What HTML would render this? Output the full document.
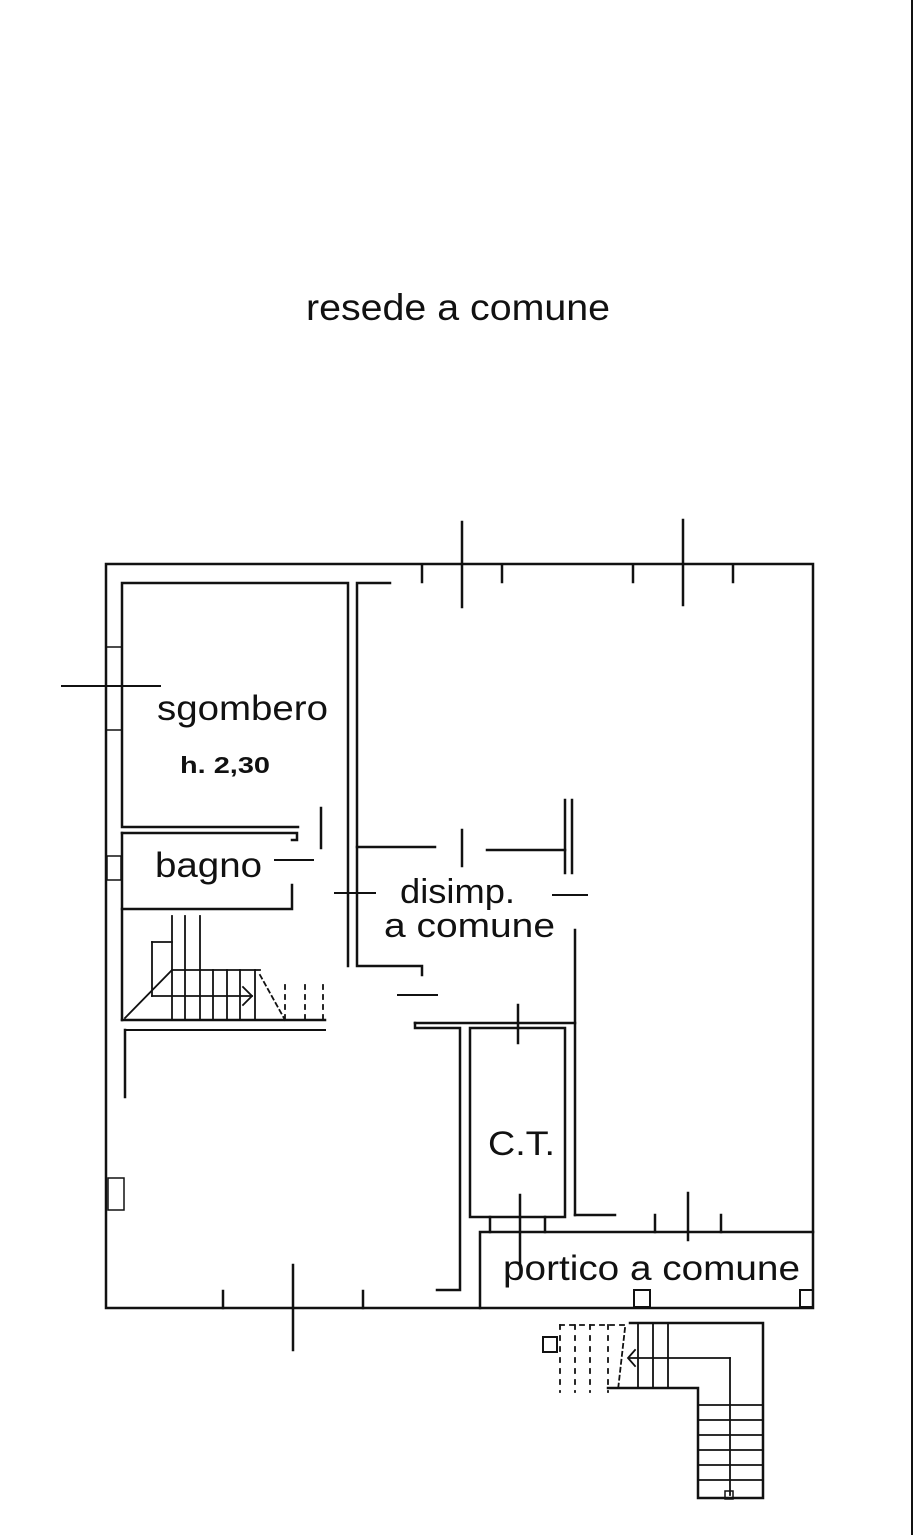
<!DOCTYPE html>
<html><head><meta charset="utf-8"><style>
html,body{margin:0;padding:0;background:#fff;width:919px;height:1535px;overflow:hidden}
svg{display:block}
text{font-family:"Liberation Sans",sans-serif;fill:#111}
</style></head><body>
<svg width="919" height="1535" viewBox="0 0 919 1535" xmlns="http://www.w3.org/2000/svg">
<g stroke="#111" fill="none" stroke-width="2.5" stroke-linecap="square">
<line x1="912" y1="0" x2="912" y2="1535" stroke-width="2"/>
<polyline points="106,1308 106,564 813,564 813,1308 106,1308"/>
<line x1="462" y1="522" x2="462" y2="607"/>
<line x1="683" y1="520" x2="683" y2="605"/>
<line x1="422" y1="566" x2="422" y2="582"/>
<line x1="502" y1="566" x2="502" y2="582"/>
<line x1="633" y1="566" x2="633" y2="582"/>
<line x1="733" y1="566" x2="733" y2="582"/>
<line x1="62" y1="686" x2="160" y2="686" stroke-width="2"/>
<polyline points="106,647 122,647" stroke-width="1.5"/>
<polyline points="106,730 122,730" stroke-width="1.5"/>
<rect x="107" y="856" width="14" height="24" stroke-width="1.5"/>
<rect x="108" y="1178" width="16" height="32" stroke-width="1.5"/>
<polyline points="298,827 122,827 122,583 348,583 348,966"/>
<polyline points="122,909 292,909 292,885"/>
<polyline points="122,833 297,833 297,840 292,840"/>
<line x1="122" y1="833" x2="122" y2="1020"/>
<line x1="321" y1="808" x2="321" y2="848"/>
<line x1="275" y1="860" x2="313" y2="860" stroke-width="2"/>
<line x1="335" y1="893" x2="375" y2="893" stroke-width="2"/>
<polyline points="390,583 357,583 357,966 422,966 422,975"/>
<polyline points="357,847 435,847"/>
<line x1="462" y1="830" x2="462" y2="866"/>
<polyline points="487,850 565,850"/>
<line x1="565" y1="800" x2="565" y2="873"/>
<line x1="572" y1="800" x2="572" y2="873"/>
<line x1="553" y1="895" x2="587" y2="895" stroke-width="2"/>
<line x1="398" y1="995" x2="437" y2="995" stroke-width="2"/>
<polyline points="122,1020 325,1020"/>
<line x1="125" y1="1030" x2="325" y2="1030" stroke-width="2"/>
<line x1="125" y1="1030" x2="125" y2="1097"/>
<g stroke-width="1.8">
<line x1="172" y1="916" x2="172" y2="1020"/>
<line x1="185" y1="916" x2="185" y2="1020"/>
<line x1="200" y1="916" x2="200" y2="970"/>
<line x1="152" y1="942" x2="172" y2="942"/>
<line x1="152" y1="942" x2="152" y2="996"/>
<line x1="172" y1="970" x2="260" y2="970"/>
<line x1="152" y1="996" x2="252" y2="996"/>
<line x1="125" y1="1018" x2="172" y2="970"/>
<line x1="200" y1="970" x2="200" y2="1020"/>
<line x1="213" y1="970" x2="213" y2="1020"/>
<line x1="227" y1="970" x2="227" y2="1020"/>
<line x1="240" y1="970" x2="240" y2="1020"/>
<line x1="255" y1="970" x2="255" y2="1020"/>
<polyline points="243,987 252,996 243,1005"/>
<line x1="260" y1="975" x2="285" y2="1020" stroke-dasharray="4,4"/>
<line x1="285" y1="985" x2="285" y2="1020" stroke-dasharray="4,6"/>
<line x1="305" y1="985" x2="305" y2="1020" stroke-dasharray="4,6"/>
<line x1="323" y1="985" x2="323" y2="1020" stroke-dasharray="4,6"/>
</g>
<polyline points="415,1023 575,1023"/>
<polyline points="415,1023 415,1028 460,1028 460,1290 437,1290"/>
<rect x="470" y="1028" width="95" height="189"/>
<line x1="575" y1="930" x2="575" y2="1215"/>
<line x1="575" y1="1215" x2="615" y2="1215"/>
<line x1="518" y1="1005" x2="518" y2="1043"/>
<line x1="520" y1="1195" x2="520" y2="1265"/>
<line x1="490" y1="1217" x2="490" y2="1232"/>
<line x1="545" y1="1217" x2="545" y2="1232"/>
<polyline points="480,1308 480,1232 813,1232"/>
<line x1="688" y1="1193" x2="688" y2="1240"/>
<line x1="655" y1="1215" x2="655" y2="1232"/>
<line x1="721" y1="1215" x2="721" y2="1232"/>
<rect x="634" y="1290" width="16" height="17" stroke-width="2"/>
<rect x="800" y="1290" width="13" height="17" stroke-width="2"/>
<line x1="293" y1="1265" x2="293" y2="1350"/>
<line x1="223" y1="1291" x2="223" y2="1308"/>
<line x1="363" y1="1291" x2="363" y2="1308"/>
<polyline points="630,1323 763,1323 763,1498 698,1498 698,1388 608,1388"/>
<g stroke-width="1.8">
<line x1="638" y1="1323" x2="638" y2="1388"/>
<line x1="653" y1="1323" x2="653" y2="1388"/>
<line x1="668" y1="1323" x2="668" y2="1388"/>
<line x1="630" y1="1358" x2="730" y2="1358"/>
<line x1="730" y1="1358" x2="730" y2="1495"/>
<line x1="698" y1="1405" x2="763" y2="1405"/>
<line x1="698" y1="1420" x2="763" y2="1420"/>
<line x1="698" y1="1435" x2="763" y2="1435"/>
<line x1="698" y1="1450" x2="763" y2="1450"/>
<line x1="698" y1="1465" x2="763" y2="1465"/>
<line x1="698" y1="1480" x2="763" y2="1480"/>
<line x1="560" y1="1325" x2="560" y2="1392" stroke-dasharray="4,7"/>
<line x1="575" y1="1325" x2="575" y2="1392" stroke-dasharray="4,7"/>
<line x1="590" y1="1325" x2="590" y2="1392" stroke-dasharray="4,7"/>
<line x1="608" y1="1325" x2="608" y2="1392" stroke-dasharray="4,7"/>
<line x1="560" y1="1325" x2="625" y2="1325" stroke-dasharray="4,6"/>
<line x1="625" y1="1328" x2="618" y2="1390" stroke-dasharray="4,4"/>
<polyline points="635,1350 628,1358 635,1366"/>
</g>
<rect x="543" y="1337" width="14" height="15" stroke-width="2"/>
<rect x="725" y="1491" width="8" height="8" stroke-width="1.5"/>
</g>
<text x="306" y="320" font-size="37" textLength="304" lengthAdjust="spacingAndGlyphs">resede a comune</text>
<text x="157" y="720" font-size="35" textLength="171" lengthAdjust="spacingAndGlyphs">sgombero</text>
<text x="180" y="773" font-size="23" font-weight="bold" textLength="90" lengthAdjust="spacingAndGlyphs">h. 2,30</text>
<text x="155" y="877" font-size="35" textLength="107" lengthAdjust="spacingAndGlyphs">bagno</text>
<text x="400" y="903" font-size="34" textLength="115" lengthAdjust="spacingAndGlyphs">disimp.</text>
<text x="384" y="937" font-size="34" textLength="171" lengthAdjust="spacingAndGlyphs">a comune</text>
<text x="488" y="1155" font-size="34" textLength="67" lengthAdjust="spacingAndGlyphs">C.T.</text>
<text x="503" y="1280" font-size="35" textLength="297" lengthAdjust="spacingAndGlyphs">portico a comune</text>
</svg>
</body></html>
